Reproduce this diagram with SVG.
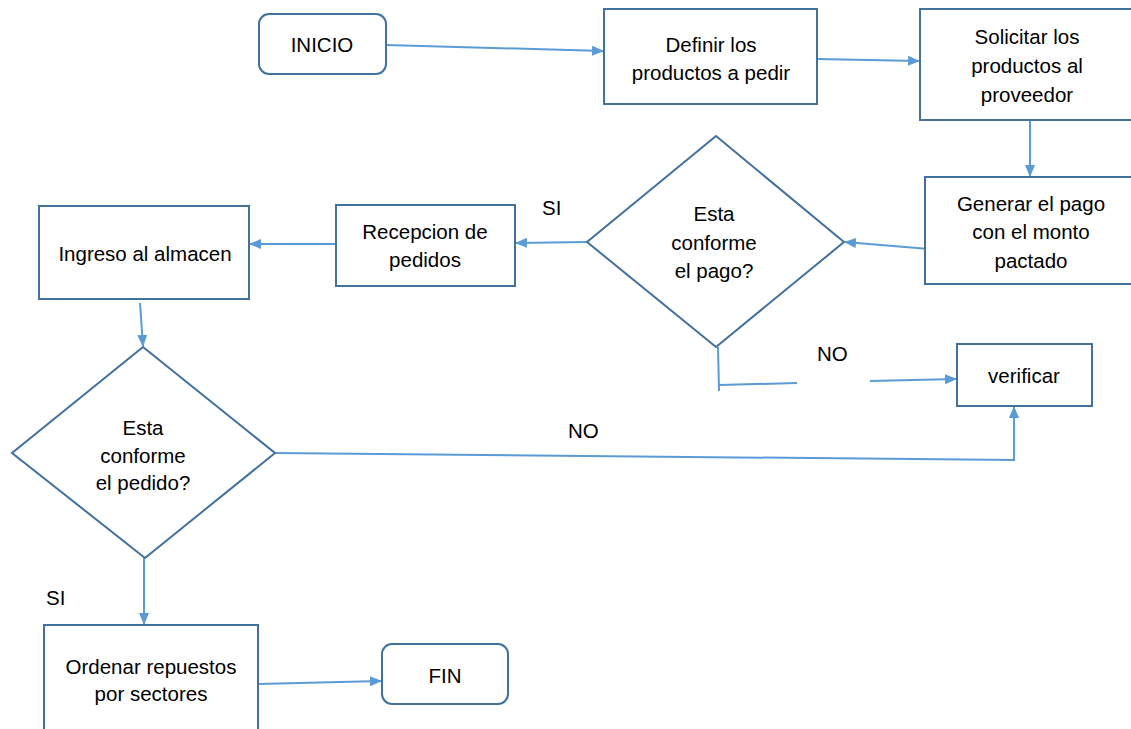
<svg xmlns="http://www.w3.org/2000/svg" width="1131" height="729" viewBox="0 0 1131 729">
<style>
.shape{fill:#fff;stroke:#41719c;stroke-width:2}
.conn{fill:none;stroke:#5b9bd5;stroke-width:2}
text{font-family:"Liberation Sans",Arial,sans-serif;font-size:20.5px;fill:#000;text-anchor:middle}
.lbl{text-anchor:start}
</style>
<defs>
<marker id="ah" viewBox="0 0 12 10" refX="11" refY="5" markerWidth="12" markerHeight="10" markerUnits="userSpaceOnUse" orient="auto">
<path d="M0,0 L12,5 L0,10 Z" fill="#5b9bd5"/>
</marker>
</defs>
<rect width="1131" height="729" fill="#fff"/>
<g id="connectors">
<line class="conn" x1="386" y1="45" x2="603" y2="51" marker-end="url(#ah)"/>
<line class="conn" x1="817" y1="59" x2="919" y2="61" marker-end="url(#ah)"/>
<line class="conn" x1="1030" y1="121" x2="1030" y2="176" marker-end="url(#ah)"/>
<line class="conn" x1="929" y1="249" x2="845" y2="242" marker-end="url(#ah)"/>
<line class="conn" x1="587" y1="242" x2="516" y2="243" marker-end="url(#ah)"/>
<line class="conn" x1="336" y1="244" x2="250" y2="244" marker-end="url(#ah)"/>
<line class="conn" x1="140" y1="303" x2="143" y2="346" marker-end="url(#ah)"/>
<line class="conn" x1="144" y1="558" x2="144" y2="624" marker-end="url(#ah)"/>
<line class="conn" x1="258" y1="684" x2="381" y2="681" marker-end="url(#ah)"/>
<line class="conn" x1="718" y1="347" x2="719" y2="391"/>
<line class="conn" x1="719" y1="385" x2="797" y2="383"/>
<line class="conn" x1="870" y1="381" x2="956" y2="379" marker-end="url(#ah)"/>
<polyline class="conn" points="275,453 1014,460 1014,407" marker-end="url(#ah)"/>
<text class="lbl" x="542" y="215">SI</text>
<text class="lbl" x="817" y="361">NO</text>
<text class="lbl" x="568" y="438">NO</text>
<text class="lbl" x="46" y="605">SI</text>
</g>
<g id="inicio">
<rect class="shape" x="259" y="14" width="127" height="60" rx="10"/>
<text x="322" y="52">INICIO</text>
</g>
<g id="definir">
<rect class="shape" x="604" y="9" width="213" height="95"/>
<text x="711" y="52">Definir los</text>
<text x="711" y="80">productos a pedir</text>
</g>
<g id="solicitar">
<rect class="shape" x="920" y="9" width="214" height="111"/>
<text x="1027" y="44">Solicitar los</text>
<text x="1027" y="73">productos al</text>
<text x="1027" y="102">proveedor</text>
</g>
<g id="generar">
<rect class="shape" x="925" y="177" width="209" height="107"/>
<text x="1031" y="211">Generar el pago</text>
<text x="1031" y="239">con el monto</text>
<text x="1031" y="268">pactado</text>
</g>
<g id="decision-pago">
<polygon class="shape" points="716,136 844,242 716,347 587,242"/>
<text x="714" y="221">Esta</text>
<text x="714" y="250">conforme</text>
<text x="714" y="278">el pago?</text>
</g>
<g id="recepcion">
<rect class="shape" x="336" y="205" width="179" height="81"/>
<text x="425" y="239">Recepcion de</text>
<text x="425" y="267">pedidos</text>
</g>
<g id="ingreso">
<rect class="shape" x="39" y="206" width="210" height="93"/>
<text x="145" y="261">Ingreso al almacen</text>
</g>
<g id="decision-pedido">
<polygon class="shape" points="143,347 275,453 145,558 12,453"/>
<text x="143" y="435">Esta</text>
<text x="143" y="463">conforme</text>
<text x="143" y="490">el pedido?</text>
</g>
<g id="verificar">
<rect class="shape" x="957" y="344" width="135" height="62"/>
<text x="1024" y="383">verificar</text>
</g>
<g id="ordenar">
<rect class="shape" x="44" y="625" width="214" height="110"/>
<text x="151" y="674">Ordenar repuestos</text>
<text x="151" y="701">por sectores</text>
</g>
<g id="fin">
<rect class="shape" x="382" y="644" width="126" height="60" rx="10"/>
<text x="445" y="683">FIN</text>
</g>
</svg>
